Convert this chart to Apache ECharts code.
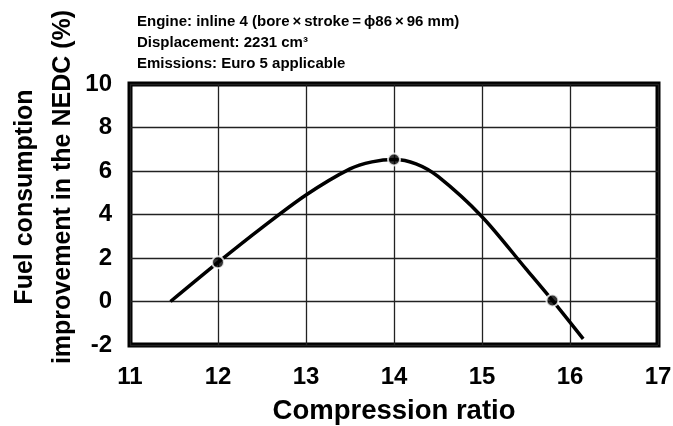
<!DOCTYPE html>
<html>
<head>
<meta charset="utf-8">
<script src="https://cdn.jsdelivr.net/npm/echarts@6/dist/echarts.min.js"></script>
<style>
  html, body { margin: 0; padding: 0; background: #fff; }
  #chart { width: 673px; height: 426px; }
</style>
</head>
<body>
<div id="chart"></div>
<script>
// curve (compression ratio, improvement %)
var curveX = [11.46, 12, 12.5, 13, 13.5, 13.75, 14, 14.25, 14.5, 15, 15.5, 15.8, 16.15];
var curveY = [0, 1.8, 3.4, 4.9, 6.1, 6.42, 6.53, 6.33, 5.75, 3.9, 1.5, 0.05, -1.72];
// measured points
var pointX = [12, 14, 15.8];
var pointY = [1.8, 6.53, 0.05];

var titleLines = [
    'Engine: inline 4 (bore\u2009×\u2009stroke\u2009=\u2009ϕ86\u2009×\u200996 mm)',
    'Displacement: 2231 cm³',
    'Emissions: Euro 5 applicable'
];
var yTitle1 = 'Fuel consumption';
var yTitle2 = 'improvement in the NEDC (%)';

var font = '"Liberation Sans", Arial, sans-serif';

var curve = curveX.map(function (x, i) { return [x, curveY[i]]; });
var points = pointX.map(function (x, i) { return [x, pointY[i]]; });

function rotatedText(txt, x, y) {
    return {
        type: 'text',
        x: x,
        y: y,
        rotation: Math.PI / 2,
        style: {
            text: txt,
            fontFamily: font,
            fontWeight: 'bold',
            fontSize: 25,
            fill: '#000',
            align: 'center',
            verticalAlign: 'middle'
        }
    };
}

var myChart = echarts.init(document.getElementById('chart'));
myChart.setOption({
    backgroundColor: '#fff',
    animation: false,
    title: {
        text: titleLines.join('\n'),
        left: 132,
        top: 6,
        textStyle: {
            fontFamily: font,
            fontWeight: 'bold',
            fontSize: 15,
            lineHeight: 21,
            color: '#000'
        }
    },
    grid: {
        left: 130,
        right: 15,
        top: 84,
        bottom: 81,
        outerBoundsMode: 'none',
        show: true,
        borderColor: '#000',
        borderWidth: 5
    },
    xAxis: {
        type: 'value',
        min: 11,
        max: 17,
        interval: 1,
        name: 'Compression ratio',
        nameLocation: 'middle',
        nameGap: 52,
        nameTextStyle: {fontFamily: font, fontWeight: 'bold', fontSize: 27.5, color: '#000'},
        axisLine: {show: false},
        axisTick: {show: false},
        axisLabel: {fontFamily: font, fontWeight: 'bold', fontSize: 24, color: '#000', margin: 20},
        splitLine: {show: true, lineStyle: {color: '#222', width: 1.3}}
    },
    yAxis: {
        type: 'value',
        min: -2,
        max: 10,
        interval: 2,
        axisLine: {show: false},
        axisTick: {show: false},
        axisLabel: {fontFamily: font, fontWeight: 'bold', fontSize: 24, color: '#000', margin: 18},
        splitLine: {show: true, lineStyle: {color: '#222', width: 1.3}}
    },
    graphic: [
        rotatedText(yTitle1, 25, 197),
        rotatedText(yTitle2, 63, 187)
    ],
    series: [
        {
            type: 'line',
            data: curve,
            smooth: 0.3,
            showSymbol: false,
            lineStyle: {color: '#000', width: 3.5},
            z: 3
        },
        {
            type: 'scatter',
            data: points,
            symbolSize: 12,
            itemStyle: {color: '#000', borderColor: '#fff', borderWidth: 2},
            z: 4
        }
    ]
});
</script>
</body>
</html>
